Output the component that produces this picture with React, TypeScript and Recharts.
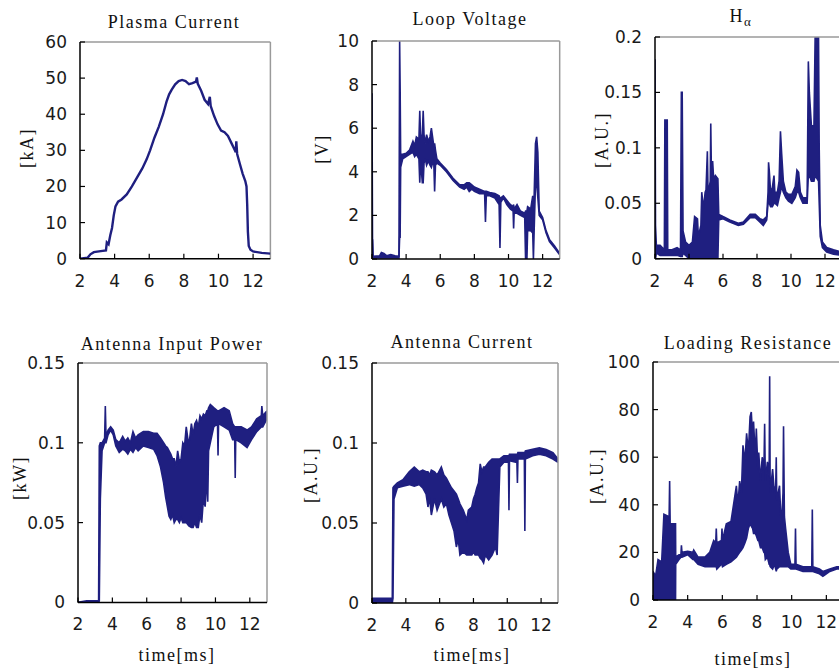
import React from 'react';
import { ComposedChart, Line, Area, XAxis, YAxis, ReferenceLine } from 'recharts';

const NAVY = '#1f1f80';

// ---------- tick labels ----------
const timeTicks = [2, 4, 6, 8, 10, 12];
const plasmaTicks = [0, 10, 20, 30, 40, 50, 60];
const loopTicks = [0, 2, 4, 6, 8, 10];
const halphaTicks = [0, 0.05, 0.1, 0.15, 0.2];
const powerTicks = [0, 0.05, 0.1, 0.15];
const antennaTicks = [0, 0.05, 0.1, 0.15];
const loadingTicks = [0, 20, 40, 60, 80, 100];

// ---------- data ----------
// Plasma current: [time ms, kA]
const plasmaCurrent: [number, number][] = [
  [2.0, 0], [2.45, 0.3], [2.6, 1.2], [2.8, 1.8], [3.2, 2.1], [3.5, 2.3], [3.55, 4.5], [3.65, 4.0],
  [3.75, 6.5], [3.85, 8.5], [3.95, 12], [4.05, 14.5], [4.2, 15.8], [4.4, 16.4], [4.7, 17.8], [5.0, 20],
  [5.3, 22.5], [5.6, 25], [5.85, 27.5], [6.05, 30], [6.3, 33.5], [6.55, 36.5], [6.8, 40], [7.0, 43.5],
  [7.15, 45.5], [7.3, 46.8], [7.5, 48.3], [7.7, 49.2], [7.9, 49.5], [8.1, 49.2], [8.3, 48.3], [8.5, 48.6],
  [8.7, 49], [8.75, 50.2], [8.8, 48.5], [9.0, 46.5], [9.2, 44], [9.4, 42.8], [9.5, 44.8], [9.55, 42.3],
  [9.75, 39.5], [9.95, 37.2], [10.15, 35.5], [10.35, 35], [10.55, 34], [10.75, 32], [10.9, 30.5], [11.0, 29.5],
  [11.03, 32.5], [11.08, 29], [11.25, 26], [11.4, 23.5], [11.55, 21.5], [11.62, 20], [11.66, 15], [11.7, 7.5],
  [11.75, 3.5], [11.85, 2.5], [12.0, 2], [12.5, 1.6], [13.0, 1.4],
];

// Loop voltage: [time ms, low V, high V]
const loopVoltage: [number, number, number][] = [
  [2.0, 0.6, 7.6], [2.03, 0.9, 0.9], [2.06, 0.05, 0.12], [2.45, 0.05, 0.15], [2.55, 0.05, 0.3], [2.7, 0.05, 0.25],
  [2.85, 0.05, 0.15], [3.1, 0.05, 0.2], [3.35, 0.05, 0.15], [3.58, 0.05, 0.12], [3.62, 1.0, 10], [3.65, 1.0, 7.8],
  [3.68, 4.2, 4.8], [3.8, 4.6, 4.8], [4.0, 4.7, 4.85], [4.2, 4.8, 5.0], [4.4, 4.9, 5.4], [4.5, 4.7, 5.2],
  [4.6, 4.8, 5.6], [4.75, 4.6, 5.5], [4.8, 3.5, 6.8], [4.85, 4.5, 5.6], [4.95, 3.5, 5.7], [5.0, 3.5, 6.8],
  [5.05, 4.4, 5.7], [5.12, 4.6, 5.3], [5.2, 4.3, 5.7], [5.3, 4.5, 5.4], [5.4, 4.3, 5.6], [5.48, 4.2, 6.0],
  [5.55, 4.4, 5.6], [5.62, 4.5, 5.2], [5.67, 3.1, 5.3], [5.72, 4.3, 5.0], [5.8, 4.4, 4.6], [6.0, 4.3, 4.4],
  [6.36, 4.0, 4.1], [6.75, 3.6, 3.7], [7.14, 3.3, 3.4], [7.4, 3.2, 3.4], [7.55, 3.3, 3.5], [7.7, 3.1, 3.5],
  [7.85, 3.2, 3.4], [8.0, 3.1, 3.3], [8.3, 3.0, 3.2], [8.6, 3.0, 3.1], [8.65, 1.7, 3.1], [8.7, 2.9, 3.1],
  [8.9, 2.9, 3.05], [9.2, 2.8, 3.0], [9.45, 2.5, 2.9], [9.5, 0.5, 2.8], [9.55, 2.6, 2.8], [9.7, 2.8, 2.9],
  [9.9, 2.5, 2.7], [10.1, 2.3, 2.5], [10.27, 2.2, 2.4], [10.3, 1.4, 2.5], [10.33, 2.1, 2.3], [10.5, 2.1, 2.5],
  [10.7, 2.0, 2.2], [10.95, 1.9, 2.1], [11.0, 0, 2.2], [11.08, 0, 2.2], [11.12, 1.3, 2.4], [11.3, 1.3, 2.3],
  [11.42, 1.2, 2.9], [11.46, 0, 2.5], [11.5, 1.2, 2.8], [11.58, 3.4, 5.3], [11.65, 3.5, 5.6], [11.72, 2.8, 4.9],
  [11.8, 2.0, 2.2], [12.0, 1.8, 1.9], [12.2, 1.2, 1.3], [12.4, 0.8, 0.9], [12.7, 0.5, 0.6], [13.0, 0.2, 0.25],
];

// H-alpha: [time ms, low, high] (A.U.)
const hAlpha: [number, number, number][] = [
  [2.0, 0.0, 0.18], [2.03, 0.0, 0.03], [2.08, 0.005, 0.012], [2.3, 0.003, 0.012], [2.55, 0.003, 0.008],
  [2.58, 0.003, 0.125], [2.72, 0.003, 0.125], [2.75, 0.003, 0.008], [3.0, 0.003, 0.008], [3.3, 0.003, 0.01],
  [3.5, 0.002, 0.008], [3.55, 0.002, 0.15], [3.6, 0.002, 0.15], [3.65, 0.005, 0.025], [3.8, 0.003, 0.015],
  [4.0, 0.0, 0.012], [4.2, 0.0, 0.015], [4.33, 0.0, 0.038], [4.5, 0.0, 0.036], [4.55, 0.0, 0.02],
  [4.7, 0.0, 0.03], [4.75, 0.0, 0.06], [4.85, 0.0, 0.045], [4.95, 0.0, 0.06], [5.0, 0.0, 0.062],
  [5.08, 0.0, 0.097], [5.12, 0.0, 0.06], [5.2, 0.0, 0.065], [5.25, 0.0, 0.07], [5.28, 0.0, 0.122],
  [5.32, 0.0, 0.075], [5.39, 0.0, 0.088], [5.45, 0.0, 0.072], [5.55, 0.0, 0.075], [5.7, 0.0, 0.072],
  [5.75, 0.035, 0.04], [6.0, 0.036, 0.038], [6.4, 0.033, 0.035], [6.9, 0.03, 0.032], [7.2, 0.031, 0.033],
  [7.6, 0.037, 0.04], [7.9, 0.037, 0.04], [8.18, 0.033, 0.036], [8.37, 0.03, 0.035], [8.57, 0.035, 0.038],
  [8.65, 0.05, 0.06], [8.68, 0.05, 0.087], [8.72, 0.05, 0.08], [8.8, 0.047, 0.06], [8.9, 0.047, 0.064],
  [9.0, 0.05, 0.075], [9.05, 0.05, 0.06], [9.2, 0.048, 0.06], [9.3, 0.055, 0.07], [9.38, 0.06, 0.115],
  [9.45, 0.065, 0.095], [9.55, 0.06, 0.07], [9.7, 0.055, 0.06], [9.85, 0.052, 0.058], [10.05, 0.05, 0.058],
  [10.25, 0.055, 0.065], [10.35, 0.06, 0.08], [10.45, 0.06, 0.078], [10.55, 0.055, 0.06], [10.7, 0.05, 0.055],
  [10.95, 0.05, 0.055], [11.02, 0.075, 0.178], [11.08, 0.075, 0.15], [11.2, 0.07, 0.12], [11.35, 0.07, 0.12],
  [11.42, 0.075, 0.2], [11.62, 0.07, 0.2], [11.66, 0.05, 0.1], [11.72, 0.02, 0.03], [11.85, 0.01, 0.015],
  [12.1, 0.006, 0.01], [12.5, 0.004, 0.008], [13.0, 0.003, 0.006],
];

// Antenna input power: [time ms, low kW, high kW]
const inputPower: [number, number, number][] = [
  [2.0, 0, 0], [2.5, 0, 0.001], [3.2, 0, 0.001], [3.24, 0.001, 0.098], [3.3, 0.065, 0.1], [3.4, 0.095, 0.1],
  [3.55, 0.1, 0.103], [3.59, 0.1, 0.123], [3.63, 0.1, 0.104], [3.75, 0.105, 0.108], [3.9, 0.108, 0.11],
  [4.05, 0.105, 0.108], [4.2, 0.098, 0.102], [4.4, 0.094, 0.1], [4.6, 0.096, 0.104], [4.75, 0.095, 0.101],
  [4.9, 0.093, 0.103], [5.05, 0.096, 0.1], [5.2, 0.094, 0.107], [5.35, 0.097, 0.103], [5.5, 0.095, 0.105],
  [5.8, 0.098, 0.107], [6.1, 0.097, 0.107], [6.4, 0.096, 0.106], [6.6, 0.092, 0.106], [6.8, 0.085, 0.103],
  [6.98, 0.075, 0.1], [7.1, 0.066, 0.098], [7.2, 0.06, 0.097], [7.3, 0.054, 0.095], [7.4, 0.052, 0.093],
  [7.5, 0.055, 0.09], [7.6, 0.05, 0.09], [7.7, 0.052, 0.085], [7.8, 0.052, 0.095], [7.9, 0.05, 0.088],
  [8.0, 0.053, 0.09], [8.1, 0.05, 0.1], [8.2, 0.05, 0.098], [8.3, 0.05, 0.11], [8.45, 0.048, 0.098],
  [8.6, 0.047, 0.112], [8.7, 0.047, 0.105], [8.8, 0.05, 0.112], [8.9, 0.047, 0.114], [9.0, 0.047, 0.11],
  [9.1, 0.055, 0.117], [9.2, 0.05, 0.115], [9.3, 0.065, 0.118], [9.4, 0.06, 0.117], [9.5, 0.08, 0.12],
  [9.55, 0.063, 0.12], [9.6, 0.095, 0.122], [9.7, 0.1, 0.124], [9.9, 0.11, 0.122], [10.12, 0.112, 0.12],
  [10.15, 0.092, 0.12], [10.18, 0.112, 0.12], [10.5, 0.11, 0.122], [10.8, 0.108, 0.12], [11.0, 0.102, 0.112],
  [11.12, 0.102, 0.11], [11.15, 0.078, 0.11], [11.18, 0.102, 0.11], [11.5, 0.1, 0.11], [11.84, 0.097, 0.108],
  [12.1, 0.102, 0.11], [12.4, 0.107, 0.115], [12.67, 0.11, 0.117], [12.7, 0.11, 0.123], [12.75, 0.11, 0.117],
  [13.0, 0.115, 0.12],
];

// Antenna current: [time ms, low, high] (A.U.)
const antennaCurrent: [number, number, number][] = [
  [2.0, 0, 0.003], [3.2, 0, 0.003], [3.24, 0.003, 0.072], [3.3, 0.065, 0.073], [3.5, 0.072, 0.075],
  [3.83, 0.073, 0.077], [4.2, 0.074, 0.082], [4.5, 0.073, 0.085], [4.8, 0.074, 0.082], [5.0, 0.072, 0.083],
  [5.2, 0.068, 0.082], [5.31, 0.06, 0.082], [5.4, 0.066, 0.08], [5.51, 0.055, 0.083], [5.7, 0.065, 0.082],
  [5.85, 0.058, 0.08], [6.1, 0.065, 0.085], [6.25, 0.06, 0.08], [6.4, 0.062, 0.078], [6.55, 0.055, 0.075],
  [6.7, 0.05, 0.072], [6.85, 0.045, 0.07], [6.99, 0.035, 0.068], [7.1, 0.04, 0.065], [7.2, 0.03, 0.062],
  [7.4, 0.032, 0.058], [7.6, 0.03, 0.052], [7.7, 0.03, 0.058], [7.9, 0.03, 0.06], [8.0, 0.032, 0.065],
  [8.1, 0.03, 0.068], [8.2, 0.03, 0.072], [8.3, 0.03, 0.075], [8.4, 0.028, 0.087], [8.5, 0.027, 0.082],
  [8.6, 0.025, 0.085], [8.7, 0.03, 0.085], [8.9, 0.027, 0.088], [9.1, 0.03, 0.09], [9.3, 0.035, 0.09],
  [9.4, 0.03, 0.09], [9.56, 0.085, 0.09], [9.8, 0.088, 0.092], [10.07, 0.088, 0.092], [10.1, 0.058, 0.092],
  [10.13, 0.089, 0.093], [10.5, 0.088, 0.093], [10.57, 0.088, 0.093], [10.6, 0.075, 0.093], [10.63, 0.09, 0.094],
  [11.01, 0.09, 0.094], [11.04, 0.045, 0.094], [11.07, 0.09, 0.095], [11.5, 0.092, 0.096], [11.9, 0.093, 0.097],
  [12.3, 0.092, 0.096], [12.7, 0.09, 0.094], [13.0, 0.088, 0.09],
];

// Loading resistance: [time ms, low, high] (A.U.)
const loadingResistance: [number, number, number][] = [
  [2.0, 0, 12], [2.15, 0, 10], [2.29, 0, 17], [2.5, 0, 16], [2.63, 0, 36], [2.93, 0, 35], [2.96, 0, 50],
  [2.99, 0, 32], [3.3, 0, 32], [3.31, 15, 18], [3.5, 17, 19], [3.61, 18, 19], [3.64, 18, 23], [3.67, 18, 20],
  [4.0, 19, 20.5], [4.3, 17, 20], [4.35, 17, 21], [4.6, 15, 18], [5.0, 14, 18], [5.27, 14, 20], [5.5, 14, 25],
  [5.62, 14, 24], [5.65, 14, 30], [5.68, 13, 24], [5.95, 15, 25], [5.98, 15, 30], [6.01, 14, 25], [6.23, 15, 32],
  [6.5, 16, 33], [6.81, 18, 48], [6.9, 19, 40], [7.0, 20, 50], [7.1, 21, 45], [7.19, 22, 65], [7.3, 24, 58],
  [7.4, 26, 70], [7.5, 30, 62], [7.6, 32, 77], [7.67, 31, 79], [7.75, 30, 68], [7.8, 28, 75], [7.9, 28, 60],
  [7.96, 27, 72], [8.05, 25, 55], [8.1, 25, 62], [8.2, 22, 50], [8.3, 22, 60], [8.4, 20, 55], [8.44, 20, 74],
  [8.48, 17, 50], [8.6, 18, 58], [8.7, 15, 52], [8.73, 15, 94], [8.76, 14, 45], [8.9, 13, 55], [9.0, 15, 45],
  [9.08, 13, 48], [9.11, 12, 60], [9.14, 13, 42], [9.3, 14, 48], [9.4, 14, 30], [9.5, 14, 45], [9.53, 14, 73],
  [9.58, 14, 35], [9.65, 14, 30], [9.8, 14, 20], [9.95, 13, 15], [10.19, 13, 15], [10.22, 13, 30], [10.25, 13, 15],
  [10.65, 12, 14], [11.16, 12, 14], [11.19, 12, 38], [11.22, 12, 14], [11.6, 11, 13], [11.8, 10, 12],
  [12.0, 11, 12.5], [12.2, 12, 13], [12.6, 13, 14], [13.0, 13, 14],
];

// ---------- layout ----------
const YW = 60;
const XH = 40;
const MT = 16;
const MR = 5;

const tickStyle = { fontSize: 17, fontFamily: 'DejaVu Sans', fill: '#1a1a1a' };

type Box = { l: number; t: number; r: number; b: number };

function Panel({ box, yMax, yTicks, rows, isLine }: { box: Box; yMax: number; yTicks: number[]; rows: any[]; isLine: boolean }) {
  const w = box.r - box.l + YW + MR;
  const h = box.b - box.t + MT + XH;
  return (
    <div style={{ position: 'absolute', left: box.l - YW, top: box.t - MT }}>
      <ComposedChart width={w} height={h} data={rows} margin={{ top: MT, right: MR, left: 0, bottom: 0 }}>
        <XAxis
          type="number"
          dataKey="t"
          domain={[2, 13]}
          ticks={timeTicks}
          interval={0}
          allowDataOverflow
          height={XH}
          tickSize={-5}
          tickMargin={21}
          axisLine={{ stroke: '#000', strokeWidth: 1.5 }}
          tickLine={{ stroke: '#000', strokeWidth: 1.2 }}
          tick={tickStyle}
        />
        <YAxis
          type="number"
          domain={[0, yMax]}
          ticks={yTicks}
          interval={0}
          allowDataOverflow
          width={YW}
          tickSize={-5}
          tickMargin={18}
          axisLine={{ stroke: '#000', strokeWidth: 1.5 }}
          tickLine={{ stroke: '#000', strokeWidth: 1.2 }}
          tick={tickStyle}
        />
        <ReferenceLine y={yMax} stroke="#9a9a9a" strokeWidth={1.5} />
        <ReferenceLine x={13} stroke="#9a9a9a" strokeWidth={1.5} />
        {isLine ? (
          <Line type="linear" dataKey="v" stroke={NAVY} strokeWidth={2.4} dot={false} activeDot={false} isAnimationActive={false} />
        ) : (
          <Area
            type="linear"
            dataKey="range"
            stroke={NAVY}
            strokeWidth={1.6}
            fill={NAVY}
            fillOpacity={1}
            dot={false}
            activeDot={false}
            isAnimationActive={false}
          />
        )}
      </ComposedChart>
    </div>
  );
}

const toLine = (arr: [number, number][]) => arr.map(([t, v]) => ({ t, v }));
const toBand = (arr: [number, number, number][]) => arr.map(([t, lo, hi]) => ({ t, range: [lo, hi] }));

const titleStyle: React.CSSProperties = {
  fontFamily: 'Liberation Serif',
  fontSize: 18,
  letterSpacing: 1.5,
  fill: '#111',
};

function RotLabel({ x, y, text }: { x: number; y: number; text: string }) {
  return (
    <text x={x} y={y} transform={`rotate(-90, ${x}, ${y})`} textAnchor="middle" dominantBaseline="central" style={titleStyle}>
      {text}
    </text>
  );
}

export default function App() {
  return (
    <div style={{ position: 'absolute', left: 0, top: 0, width: 839, height: 670, overflow: 'hidden', background: '#fff' }}>
      <Panel box={{ l: 79.6, t: 42.3, r: 270, b: 259 }} yMax={60} yTicks={plasmaTicks} rows={toLine(plasmaCurrent)} isLine />
      <Panel box={{ l: 372.3, t: 41, r: 560, b: 259 }} yMax={10} yTicks={loopTicks} rows={toBand(loopVoltage)} isLine={false} />
      <Panel box={{ l: 655, t: 37, r: 842, b: 258.7 }} yMax={0.2} yTicks={halphaTicks} rows={toBand(hAlpha)} isLine={false} />
      <Panel box={{ l: 77.7, t: 363.3, r: 266.7, b: 602.7 }} yMax={0.15} yTicks={powerTicks} rows={toBand(inputPower)} isLine={false} />
      <Panel box={{ l: 372.3, t: 362.7, r: 558.3, b: 602.7 }} yMax={0.15} yTicks={antennaTicks} rows={toBand(antennaCurrent)} isLine={false} />
      <Panel box={{ l: 653.3, t: 362, r: 844, b: 600 }} yMax={100} yTicks={loadingTicks} rows={toBand(loadingResistance)} isLine={false} />
      <svg width={839} height={670} style={{ position: 'absolute', left: 0, top: 0, pointerEvents: 'none' }}>
        <text x={174} y={28} textAnchor="middle" style={titleStyle}>Plasma Current</text>
        <text x={470} y={25} textAnchor="middle" style={titleStyle}>Loop Voltage</text>
        <text x={741} y={22} textAnchor="middle" style={titleStyle}>
          H<tspan dy={4} fontSize={13}>α</tspan>
        </text>
        <text x={172} y={350} textAnchor="middle" style={titleStyle}>Antenna Input Power</text>
        <text x={462} y={348} textAnchor="middle" style={titleStyle}>Antenna Current</text>
        <text x={748} y={349} textAnchor="middle" style={titleStyle}>Loading Resistance</text>
        <RotLabel x={27} y={148} text="[kA]" />
        <RotLabel x={322} y={149} text="[V]" />
        <RotLabel x={602} y={140} text="[A.U.]" />
        <RotLabel x={20} y={478} text="[kW]" />
        <RotLabel x={311} y={475} text="[A.U.]" />
        <RotLabel x={597} y={476} text="[A.U.]" />
        <text x={177} y={661} textAnchor="middle" style={titleStyle}>time[ms]</text>
        <text x={472} y={661} textAnchor="middle" style={titleStyle}>time[ms]</text>
        <text x={753} y={665} textAnchor="middle" style={titleStyle}>time[ms]</text>
      </svg>
    </div>
  );
}
